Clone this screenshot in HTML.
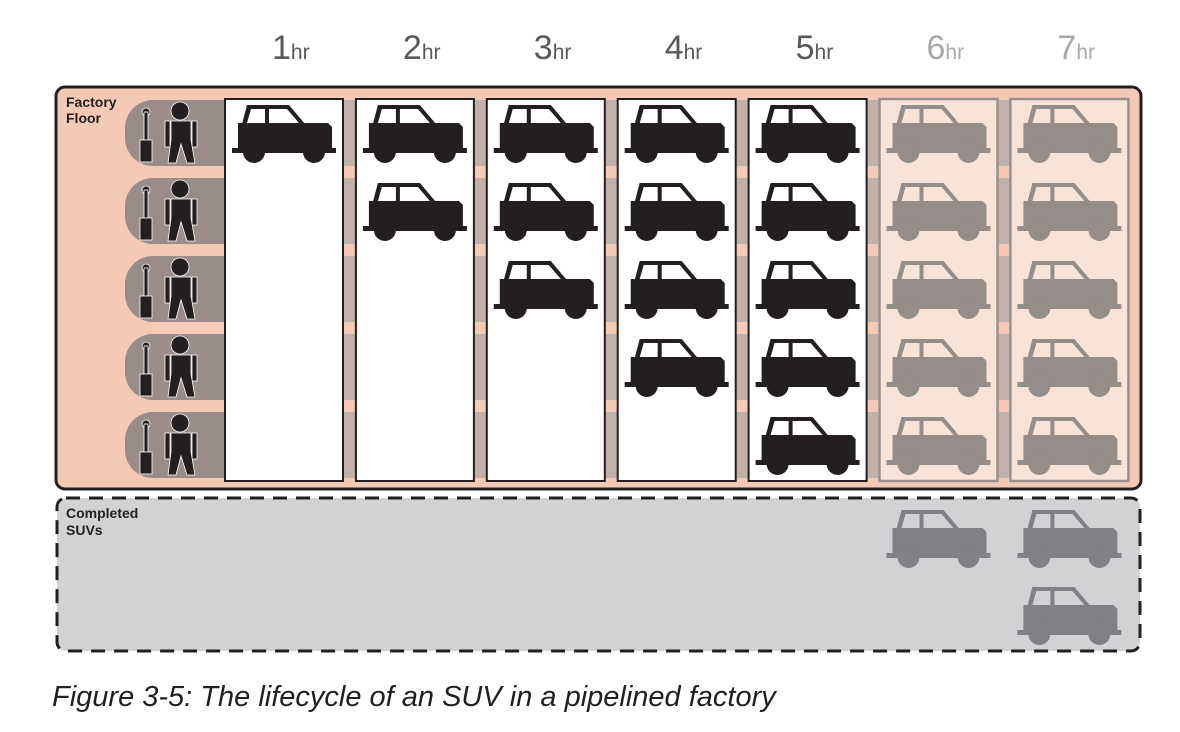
<!DOCTYPE html>
<html><head><meta charset="utf-8"><style>
body{margin:0;background:#fff;width:1180px;height:732px;overflow:hidden;font-family:"Liberation Sans",sans-serif}
svg{display:block}
</style></head><body>
<svg id="chart" width="1180" height="732" viewBox="0 0 1180 732" xmlns="http://www.w3.org/2000/svg">
<rect x="56" y="87" width="1085" height="402" rx="9" fill="#f4c9b6" stroke="#231f20" stroke-width="3"/>
<rect x="57" y="498" width="1083" height="153" rx="9" fill="#d1d2d4" stroke="#231f20" stroke-width="3" stroke-dasharray="14,9"/>
<text x="66" y="107" font-size="14" font-weight="bold" fill="#231f20">Factory</text>
<text x="66" y="123" font-size="14" font-weight="bold" fill="#231f20">Floor</text>
<text x="66" y="518" font-size="14" font-weight="bold" fill="#231f20">Completed</text>
<text x="66" y="535" font-size="14" font-weight="bold" fill="#231f20">SUVs</text>
<g id="layer"></g>
<text x="52" y="706" font-size="29" font-style="italic" fill="#231f20">Figure 3-5: The lifecycle of an SUV in a pipelined factory</text>
</svg>
<script>
const hours = ['1','2','3','4','5','6','7'];
const carsInProgress = [1,2,3,4,5,5,5];
const carsCompleted = [0,0,0,0,0,1,2];
const activeHours = [1,1,1,1,1,0,0];
const stations = [1,2,3,4,5];

const NS='http://www.w3.org/2000/svg';
const L=document.getElementById('layer');
function mk(tag,attrs,parent){const e=document.createElementNS(NS,tag);for(const k in attrs)e.setAttribute(k,attrs[k]);(parent||L).appendChild(e);return e;}
const colX=i=>225+i*130.9;
const rowY=r=>100+r*78;
const COLW=118;

stations.forEach((s,r)=>{
  const b=mk('rect',{x:200,y:rowY(r),width:927,height:66,fill:'#c0b1ab'});
  
  
  const p=mk('rect',{x:125,y:rowY(r),width:130,height:66,rx:28,fill:'#9a8c89'});
  
  
  const g=mk('g',{transform:`translate(0,${rowY(r)})`,fill:'#231f20',stroke:'#fff','stroke-width':'0.8'});
  
  
  mk('circle',{cx:146,cy:12,r:4},g);
  mk('rect',{x:144,y:12,width:4,height:28},g);
  mk('rect',{x:140,y:40,width:12,height:22},g);
  mk('circle',{cx:180,cy:11,r:9},g);
  mk('rect',{x:165,y:21,width:5,height:26},g);
  mk('rect',{x:192,y:21,width:5,height:26},g);
  mk('path',{d:'M171 21 H191 V40 L195 63 H187 L181 44 L176 63 H168 L171 40 Z'},g);
});

function car(x,y,fill,win,name){
  const g=mk('g',{transform:`translate(${x},${y})`});
  
  
  mk('path',{d:'M10 19 L15 0 H57 L73 19 Z',fill:fill},g);
  mk('path',{d:'M15 18 L19 4 H33 V18 Z',fill:win},g);
  mk('path',{d:'M37 18 V4 H55 L67 18 Z',fill:win},g);
  mk('path',{d:'M6 18 H96 L100 22 V48 H6 Z',fill:fill},g);
  mk('rect',{x:0,y:43,width:104,height:5,fill:fill},g);
  mk('circle',{cx:22,cy:47,r:11,fill:fill},g);
  mk('circle',{cx:82,cy:47,r:11,fill:fill},g);
}

hours.forEach((h,i)=>{
  const x=colX(i), act=activeHours[i];
  const c=mk('rect',{x:x,y:99,width:COLW,height:382,fill:act?'#fff':'#f9e3d7',stroke:act?'#231f20':'#9a918e','stroke-width':act?2:2.5});
  
  
  const t=mk('text',{x:x+47,y:59,'font-size':34,fill:act?'#58595b':'#a7a9ac','text-anchor':'start'});
  
  
  t.textContent=h;
  const s=mk('tspan',{'font-size':21},t); s.textContent='hr';
  for(let k=0;k<carsInProgress[i];k++){
    car(x+7,rowY(k)+5,act?'#231f20':'#958d8a',act?'#fff':'#f9e3d7','suv-in-progress');
  }
  for(let k=0;k<carsCompleted[i];k++){
    car(x+7,510+k*77,'#808184','#d1d2d4','suv-completed');
  }
});
</script>
</body></html>
